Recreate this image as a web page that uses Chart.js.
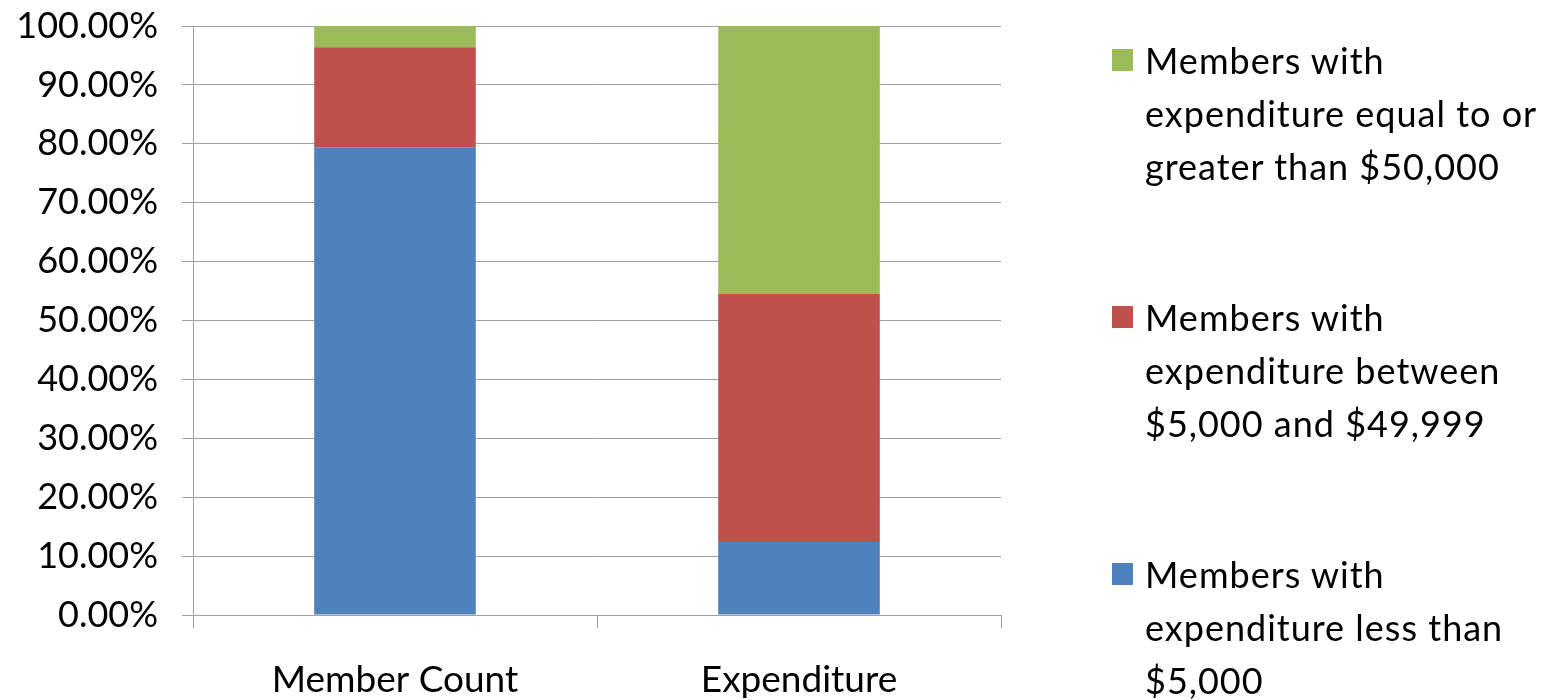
<!DOCTYPE html>
<html>
<head>
<meta charset="utf-8">
<script src="https://cdn.jsdelivr.net/npm/chart.js@4.4.1/dist/chart.umd.min.js"></script>
<style>
  html, body { margin: 0; padding: 0; background: #fff; }
  #wrap { position: relative; width: 1543px; height: 700px; overflow: hidden; }
  #chart { position: absolute; left: 0; top: 0; }
  #legend { position: absolute; left: 1112px; top: 0; font-family: Lato, sans-serif; font-size: 36px; color: #000; letter-spacing: 1px; }
  .item { position: absolute; left: 0; width: 430px; display: flex; align-items: flex-start; }
  .swatch { width: 21px; height: 22px; margin-top: 15px; flex: none; }
  .text { margin-left: 12px; line-height: 53px; white-space: pre-line; }
</style>
</head>
<body>
<div id="wrap">
  <canvas id="chart" width="1543" height="700"></canvas>
  <div id="legend"></div>
</div>
<script>
// Categories along the x axis
const categories = ['Member Count', 'Expenditure'];

// Share of each group (percent), stacked bottom to top
const lessThan5k = [79.4, 12.4];
const between5kAnd50k = [17.0, 42.1];
const atLeast50k = [3.6, 45.5];

// Series names (line breaks as laid out in the legend)
const seriesNames = [
  'Members with\nexpenditure less than\n$5,000',
  'Members with\nexpenditure between\n$5,000 and $49,999',
  'Members with\nexpenditure equal to or\ngreater than $50,000'
];

// Y axis tick values
const yTicks = [0, 10, 20, 30, 40, 50, 60, 70, 80, 90, 100];

const colors = ['#4F81BD', '#C0504D', '#9BBB59'];
const gridColor = '#A0A0A0';
const font = { family: 'Lato, sans-serif', size: 36 };

const chart = new Chart(document.getElementById('chart'), {
  type: 'bar',
  data: {
    labels: categories,
    datasets: [lessThan5k, between5kAnd50k, atLeast50k].map((vals, i) => ({
      label: seriesNames[i],
      data: vals,
      backgroundColor: colors[i],
      borderWidth: 0,
      categoryPercentage: 1,
      barPercentage: 0.4
    }))
  },
  options: {
    responsive: false,
    animation: false,
    layout: { padding: { left: 0, top: 26, right: 542, bottom: 0 } },
    plugins: {
      legend: { display: false },
      tooltip: { enabled: false }
    },
    scales: {
      x: {
        stacked: true,
        offset: true,
        border: { color: gridColor, width: 1 },
        grid: {
          offset: true,
          drawOnChartArea: false,
          drawTicks: true,
          tickLength: 13,
          color: gridColor
        },
        ticks: { color: '#000', font: { family: 'Lato, sans-serif', size: 37 }, padding: 30, maxRotation: 0 },
        afterFit: s => { s.height = 85; s.paddingLeft = 0; s.paddingRight = 0; }
      },
      y: {
        stacked: true,
        min: 0,
        max: 100,
        border: { color: gridColor, width: 1 },
        grid: { color: gridColor, tickLength: 11, lineWidth: 1 },
        afterBuildTicks: s => { s.ticks = yTicks.map(v => ({ value: v })); },
        ticks: {
          color: '#000',
          font: font,
          padding: 24,
          callback: v => Number(v).toFixed(2) + '%'
        },
        afterFit: s => { s.width = 193; s.paddingTop = 0; s.paddingBottom = 0; }
      }
    }
  }
});

// Legend built from the chart's datasets, top entry is the top of the stack
const legend = document.getElementById('legend');
chart.data.datasets.slice().reverse().forEach((ds, i) => {
  const item = document.createElement('div');
  item.className = 'item';
  item.style.top = (34 + i * 257) + 'px';
  const sw = document.createElement('div');
  sw.className = 'swatch';
  sw.style.background = ds.backgroundColor;
  const tx = document.createElement('div');
  tx.className = 'text';
  tx.textContent = ds.label;
  item.appendChild(sw);
  item.appendChild(tx);
  legend.appendChild(item);
});
</script>
</body>
</html>
